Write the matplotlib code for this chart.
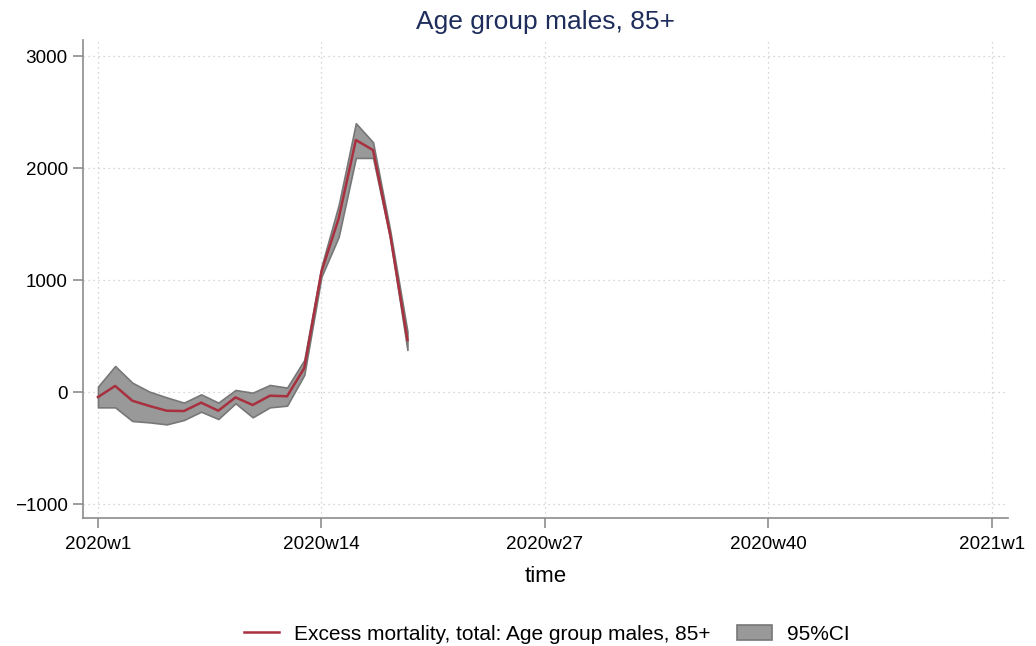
import numpy as np
import matplotlib.pyplot as plt
from matplotlib.patches import Patch
from matplotlib.lines import Line2D

plt.rcParams['font.family'] = ['Liberation Sans', 'DejaVu Sans']

# weekly data, 2020w1 .. 2020w19
weeks = np.arange(1, 20)
excess = [-45, 54, -78, -125, -167, -170, -95, -167, -48, -116, -33, -38,
          214, 1074, 1550, 2250, 2160, 1400, 464]
ci_upper = [48, 232, 83, 3, -48, -95, -21, -95, 18, -6, 63, 39,
            286, 1120, 1670, 2400, 2230, 1440, 540]
ci_lower = [-137, -137, -259, -271, -289, -250, -176, -241, -101, -226, -137, -122,
            152, 1030, 1385, 2090, 2090, 1370, 375]

xticks = [1, 14, 27, 40, 53]
xticklabels = ['2020w1', '2020w14', '2020w27', '2020w40', '2021w1']
yticks = [-1000, 0, 1000, 2000, 3000]

line_col = '#a8303f'
band_col = '#999999'
band_edge = '#777777'
axis_col = '#8c8c8c'

fig = plt.figure(figsize=(10.36, 6.46), dpi=100)
ax = fig.add_axes([83 / 1036, 1 - 518 / 646, (1008 - 83) / 1036, (518 - 40) / 646])

ax.fill_between(weeks, ci_lower, ci_upper, facecolor=band_col, edgecolor=band_edge,
                linewidth=1.2, zorder=2)
ax.plot(weeks, excess, color=line_col, linewidth=1.8, zorder=3)

ax.set_xlim(0.13, 53.93)
ax.set_ylim(-1125, 3143)
ax.set_xticks(xticks)
ax.set_xticklabels(xticklabels)
ax.set_yticks(yticks)
ax.set_yticklabels([str(v).replace('-', '\u2212') for v in yticks])

ax.grid(True, linestyle=(0, (1, 3)), color='#c8c8c8', linewidth=0.9, zorder=0)
for s in ['top', 'right']:
    ax.spines[s].set_visible(False)
for s in ['left', 'bottom']:
    ax.spines[s].set_color(axis_col)
    ax.spines[s].set_linewidth(1.2)
ax.tick_params(axis='both', length=7, width=1.2, color=axis_col, labelsize=13.6,
               labelcolor='black')
ax.tick_params(axis='x', pad=6)
ax.tick_params(axis='y', pad=4)

ax.set_xlabel('time', fontsize=16, labelpad=9)
ax.set_title('Age group males, 85+', fontsize=19, color='#1e2d5c', pad=8)

handles = [Line2D([0], [0], color=line_col, linewidth=1.8),
           Patch(facecolor=band_col, edgecolor=band_edge, linewidth=1.2)]
labels = ['Excess mortality, total: Age group males, 85+', '95%CI']
fig.legend(handles, labels, loc='center', bbox_to_anchor=(547 / 1036, 12 / 646),
           ncol=2, frameon=False, fontsize=15, handlelength=1.68,
           handletextpad=0.72, columnspacing=1.3)

fig.savefig('out.png', dpi=100)
